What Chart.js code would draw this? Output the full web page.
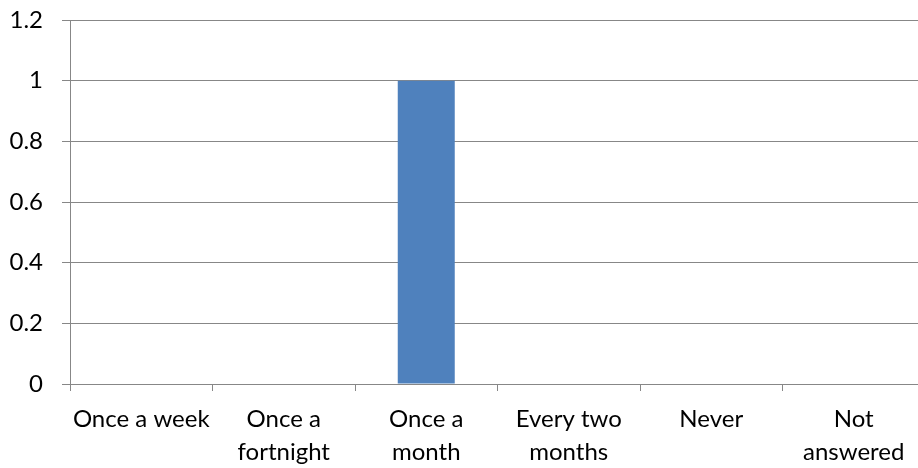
<!DOCTYPE html>
<html>
<head>
<meta charset="utf-8">
<script src="https://cdn.jsdelivr.net/npm/chart.js@4/dist/chart.umd.min.js"></script>
<style>
  html, body { margin: 0; padding: 0; background: #fff; overflow: hidden; }
  #wrap { position: relative; width: 926px; height: 468px; }
</style>
</head>
<body>
<div id="wrap"><canvas id="c"></canvas></div>
<script>
const categories = [
  "Once a week",
  ["Once a", "fortnight"],
  ["Once a", "month"],
  ["Every two", "months"],
  "Never",
  ["Not", "answered"]
];
const values = [0, 0, 1, 0, 0, 0];
const yMin = 0, yMax = 1.2, yStep = 0.2;

const gray = '#878787';
const font = { family: 'Lato', size: 24 };

new Chart(document.getElementById('c'), {
  type: 'bar',
  data: {
    labels: categories,
    datasets: [{
      data: values,
      backgroundColor: '#4F81BD',
      borderWidth: 0,
      barPercentage: 0.4,
      categoryPercentage: 1.0
    }]
  },
  options: {
    responsive: true,
    maintainAspectRatio: false,
    animation: false,
    layout: { padding: { top: 20, right: 1, left: 0, bottom: 0 } },
    plugins: { legend: { display: false }, tooltip: { enabled: false } },
    scales: {
      x: {
        offset: true,
        grid: {
          offset: true,
          drawOnChartArea: false,
          drawTicks: true,
          tickLength: 7,
          color: gray,
          lineWidth: 1
        },
        border: { display: true, color: gray, width: 1 },
        ticks: {
          color: '#000',
          font: { ...font, lineHeight: 1.38 },
          padding: 12,
          maxRotation: 0,
          autoSkip: false
        },
        afterFit: (s) => { s.height = 84; s.paddingLeft = 0; s.paddingRight = 0; }
      },
      y: {
        min: yMin,
        max: yMax,
        grid: {
          color: gray,
          lineWidth: 1,
          drawTicks: true,
          tickLength: 8
        },
        border: { display: true, color: gray, width: 1 },
        ticks: {
          stepSize: yStep,
          color: '#000',
          font: font,
          padding: 19,
          callback: (v) => String(parseFloat(Number(v).toFixed(1)))
        },
        afterFit: (s) => { s.width = 70; s.paddingTop = 0; s.paddingBottom = 0; }
      }
    }
  }
});
</script>
</body>
</html>
